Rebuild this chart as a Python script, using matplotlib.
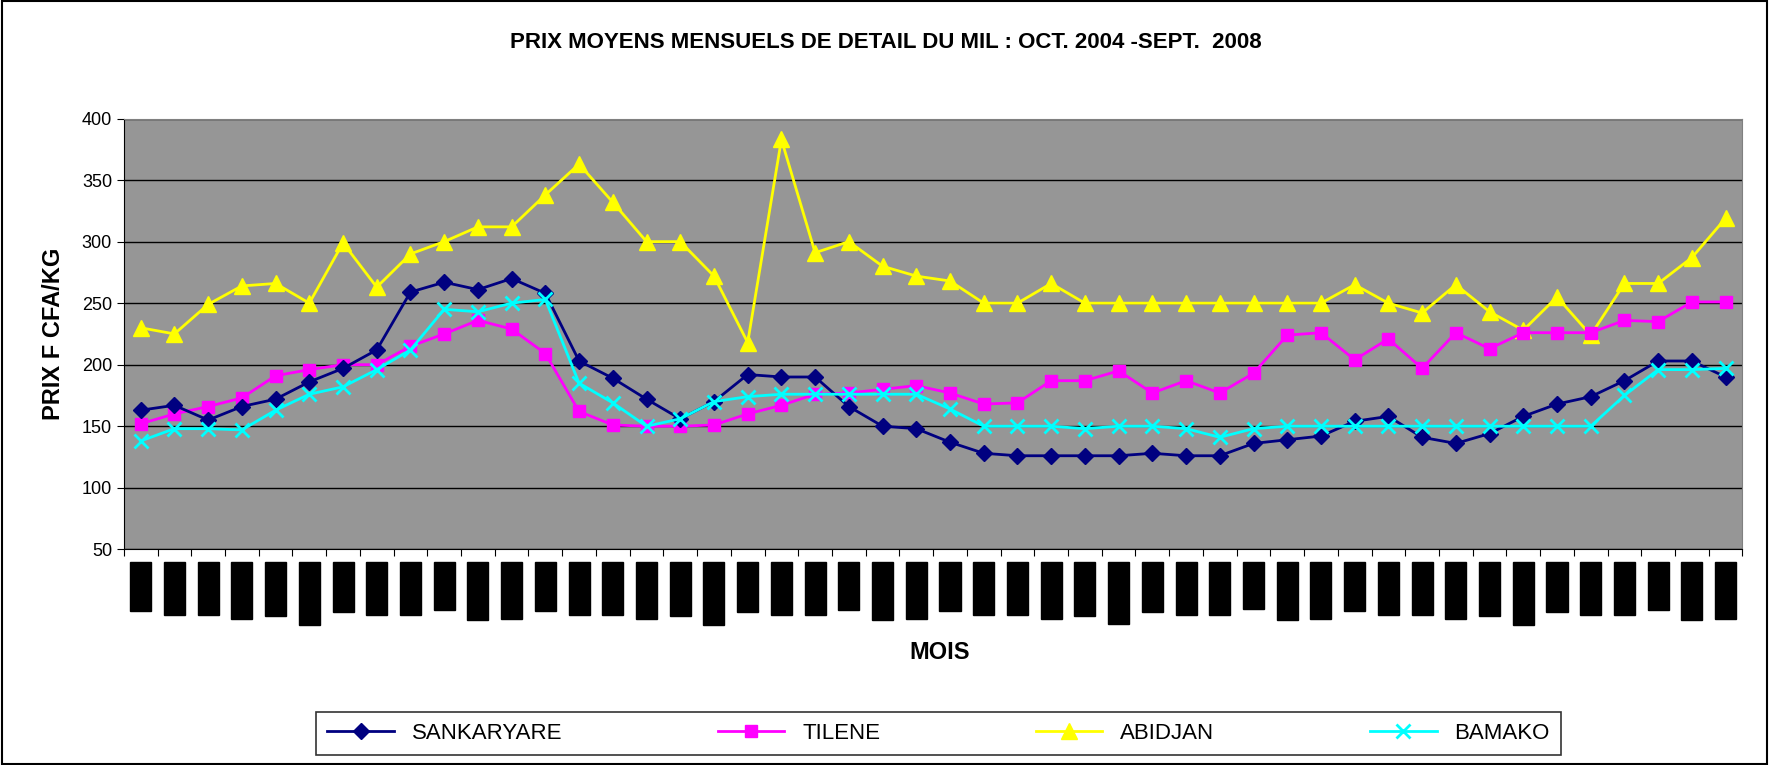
import matplotlib
matplotlib.use('Agg')
import matplotlib.pyplot as plt
from matplotlib.patches import Rectangle

plt.rcParams['font.family'] = ['Liberation Sans', 'DejaVu Sans']

# mois oct. 2004 - sept. 2008
mois = ['oct-04', 'nov-04', 'déc-04', 'janv-05', 'févr-05', 'mars-05', 'avr-05', 'mai-05',
        'juin-05', 'juil-05', 'août-05', 'sept-05',
        'oct-05', 'nov-05', 'déc-05', 'janv-06', 'févr-06', 'mars-06', 'avr-06', 'mai-06',
        'juin-06', 'juil-06', 'août-06', 'sept-06',
        'oct-06', 'nov-06', 'déc-06', 'janv-07', 'févr-07', 'mars-07', 'avr-07', 'mai-07',
        'juin-07', 'juil-07', 'août-07', 'sept-07',
        'oct-07', 'nov-07', 'déc-07', 'janv-08', 'févr-08', 'mars-08', 'avr-08', 'mai-08',
        'juin-08', 'juil-08', 'août-08', 'sept-08']

sankaryare = [163, 167, 155, 166, 172, 186, 197, 212, 259, 267, 261, 270, 258, 203,
              189, 172, 156, 170, 192, 190, 190, 166, 150, 148, 137, 128, 126, 126,
              126, 126, 128, 126, 126, 136, 139, 142, 154, 158, 141, 136, 144, 158,
              168, 174, 187, 203, 203, 190]
tilene = [152, 160, 166, 173, 191, 196, 200, 200, 215, 225, 236, 229, 209, 162,
          151, 150, 150, 151, 160, 167, 176, 177, 180, 183, 177, 168, 169, 187,
          187, 195, 177, 187, 177, 193, 224, 226, 204, 221, 197, 226, 213, 226,
          226, 226, 236, 235, 251, 251]
abidjan = [230, 225, 249, 264, 266, 250, 299, 263, 290, 300, 312, 312, 338, 363,
           332, 300, 300, 272, 218, 383, 291, 300, 280, 272, 268, 250, 250, 266,
           250, 250, 250, 250, 250, 250, 250, 250, 265, 250, 242, 265, 243, 228,
           255, 224, 266, 266, 287, 319]
bamako = [138, 148, 148, 147, 163, 176, 182, 196, 212, 245, 243, 250, 253, 185,
          169, 150, 156, 170, 174, 176, 176, 176, 176, 176, 164, 150, 150, 150,
          148, 150, 150, 148, 141, 148, 150, 150, 150, 150, 150, 150, 150, 150,
          150, 150, 175, 196, 196, 197]

fig = plt.figure(figsize=(17.69, 7.65), dpi=100)
ax = fig.add_axes([0.070, 0.282, 0.915, 0.563])
ax.set_facecolor('#969696')

x = list(range(len(mois)))
ax.plot(x, sankaryare, color='#000080', marker='D', markersize=8, lw=2, label='SANKARYARE', zorder=5)
ax.plot(x, tilene, color='#FF00FF', marker='s', markersize=9, lw=2, label='TILENE', zorder=4)
ax.plot(x, abidjan, color='#FFFF00', marker='^', markersize=11, lw=2, label='ABIDJAN', zorder=3)
ax.plot(x, bamako, color='#00FFFF', marker='x', markersize=10, mew=2, lw=2, label='BAMAKO', zorder=6)

ax.set_xlim(-0.5, len(mois) - 0.5)
ax.set_ylim(50, 400)
ax.set_yticks(range(50, 401, 50))
ax.grid(axis='y', color='black', lw=1)
ax.set_axisbelow(True)
ax.tick_params(axis='y', labelsize=13, length=5, direction='out')

# ticks between months, labels hidden as black blocks
ax.set_xticks([i - 0.5 for i in range(len(mois) + 1)])
ax.set_xticklabels([])
ax.tick_params(axis='x', length=5, direction='out')
for i, m in enumerate(mois):
    ax.text(i, 37, m, rotation=90, ha='center', va='top', fontsize=11, color='black',
            bbox=dict(facecolor='black', edgecolor='black', pad=2.5), clip_on=False)

for s in ['top', 'right']:
    ax.spines[s].set_color('#808080')
ax.spines['left'].set_color('black')
ax.spines['bottom'].set_color('black')

ax.set_ylabel('PRIX F CFA/KG', fontsize=17, fontweight='bold', labelpad=12)
fig.text(0.531, 0.147, 'MOIS', ha='center', va='center', fontsize=17, fontweight='bold')
fig.text(0.501, 0.944, 'PRIX MOYENS MENSUELS DE DETAIL DU MIL : OCT. 2004 -SEPT.  2008',
         ha='center', va='center', fontsize=16, fontweight='bold')

leg = fig.legend(loc='center', bbox_to_anchor=(0.5305, 0.041), ncol=4, fontsize=16,
                 frameon=True, fancybox=False, edgecolor='black', columnspacing=7,
                 handlelength=3, borderpad=0.5, borderaxespad=0)
leg.get_frame().set_linewidth(1.2)

fig.patches.append(Rectangle((0.001, 0.001), 0.998, 0.998, transform=fig.transFigure,
                             fill=False, edgecolor='black', lw=1.5))

fig.savefig('out.png', dpi=100)
